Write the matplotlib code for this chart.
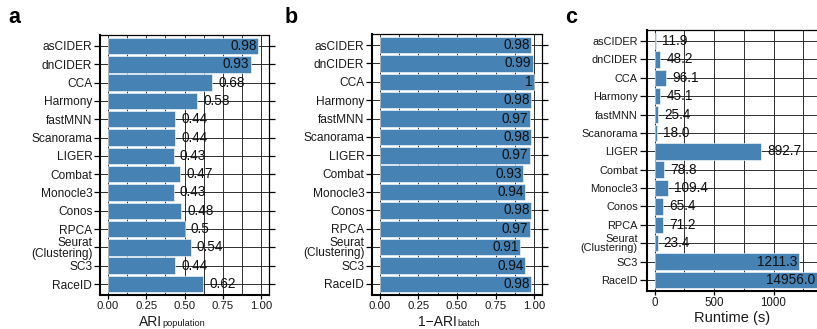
import numpy as np
import matplotlib
matplotlib.use("Agg")
import matplotlib.pyplot as plt
from matplotlib.text import Annotation
from matplotlib.ticker import FixedLocator, FormatStrFormatter

plt.rcParams['font.family'] = ['Liberation Sans', 'DejaVu Sans']

# data
methods = ['asCIDER', 'dnCIDER', 'CCA', 'Harmony', 'fastMNN', 'Scanorama', 'LIGER',
           'Combat', 'Monocle3', 'Conos', 'RPCA', 'Seurat\n(Clustering)', 'SC3', 'RaceID']
ari_pop = [0.98, 0.93, 0.68, 0.58, 0.44, 0.44, 0.43, 0.47, 0.43, 0.48, 0.5, 0.54, 0.44, 0.62]
ari_batch = [0.98, 0.99, 1, 0.98, 0.97, 0.98, 0.97, 0.93, 0.94, 0.98, 0.97, 0.91, 0.94, 0.98]
runtime = [11.9, 48.2, 96.1, 45.1, 25.4, 18.0, 892.7, 78.8, 109.4, 65.4, 71.2, 23.4, 1211.3, 14956.0]

BLUE = '#4682b4'
GRID = '#2e2e2e'
W, H = 817, 329


def draw_panel(ax, vals, xlim, major, minor, fmt, inside, ysize, xsize):
    n = len(vals)
    y = np.arange(n)
    ax.set_axisbelow(True)
    ax.barh(y, vals, height=0.9, color=BLUE, edgecolor='white', linewidth=0.4, zorder=2)
    ax.set_xlim(*xlim)
    ax.set_ylim(n - 1 + 0.6, -0.6)
    ax.set_yticks(y)
    ax.set_yticklabels(methods, fontsize=ysize, color='#1a1a1a', linespacing=0.85)
    ax.xaxis.set_major_locator(FixedLocator(major))
    ax.xaxis.set_minor_locator(FixedLocator(minor))
    ax.tick_params(axis='x', which='major', labelsize=xsize, length=3, width=0.9,
                   pad=1.5, labelcolor='#1a1a1a')
    ax.tick_params(axis='x', which='minor', length=0)
    ax.tick_params(axis='y', length=4, width=0.9, pad=1.5, right=True)
    ax.grid(axis='x', which='both', color=GRID, linewidth=0.7)
    ax.grid(axis='y', which='major', color=GRID, linewidth=0.7)
    for s in ['left', 'bottom']:
        ax.spines[s].set_linewidth(1.5)
    for s in ['top', 'right']:
        ax.spines[s].set_linewidth(0.9)
    # value labels: inside the bar when long, after it otherwise
    xmax = xlim[1]
    for yi, v in zip(y, vals):
        if v > inside:
            ax.annotate(fmt(v), (min(v, xmax), yi), xytext=(-1, 0),
                        textcoords='offset points', ha='right', va='center',
                        fontsize=9.8, color='#111111', zorder=3)
        else:
            ax.annotate(fmt(v), (v, yi), xytext=(4.5, 0),
                        textcoords='offset points', ha='left', va='center',
                        fontsize=9.8, color='#111111', zorder=3)


def sub_label(x_px, main, sub):
    t = fig.text(x_px / W, 2.5 / H, main, fontsize=10, va='baseline', color='#1a1a1a')
    fig.add_artist(Annotation(sub, xy=(1, 0), xycoords=t, xytext=(0.2, 1.2),
                              textcoords='offset points', va='bottom',
                              fontsize=6.6, color='#1a1a1a'))


fig = plt.figure(figsize=(W / 100, H / 100), dpi=100)
ax_a = fig.add_axes([100 / W, 1 - 295 / H, 169 / W, 260 / H])
ax_b = fig.add_axes([372 / W, 1 - 295 / H, 170 / W, 261 / H])
ax_c = fig.add_axes([647 / W, 1 - 291 / H, 170 / W, 261 / H])

ticks01 = [0, 0.25, 0.5, 0.75, 1.0]
grid01 = list(np.arange(0, 1.01, 0.125))
draw_panel(ax_a, ari_pop, (-0.05, 1.05), ticks01, grid01, lambda v: f"{v:g}", 0.9, 8.6, 8.2)
draw_panel(ax_b, ari_batch, (-0.05, 1.05), ticks01, grid01, lambda v: f"{v:g}", 0.5, 8.6, 8.2)
draw_panel(ax_c, runtime, (-65, 1365), [0, 500, 1000], [0, 250, 500, 750, 1000, 1250],
           lambda v: f"{v:.1f}", 1000, 7.9, 8.3)
ax_a.xaxis.set_major_formatter(FormatStrFormatter('%.2f'))
ax_b.xaxis.set_major_formatter(FormatStrFormatter('%.2f'))
ax_c.spines['right'].set_visible(False)
ax_c.tick_params(axis='y', right=False, length=5)
ax_c.set_xlabel('Runtime (s)', fontsize=10.5, labelpad=1, color='#1a1a1a')

sub_label(139, 'ARI', 'population')
sub_label(418, '1\u2212ARI', 'batch')

for x, lab in [(8, 'a'), (285, 'b'), (565, 'c')]:
    fig.text(x / W, 1 - 23 / H, lab, fontsize=15.5, fontweight='bold', va='baseline')

fig.savefig('out.png', dpi=100)
